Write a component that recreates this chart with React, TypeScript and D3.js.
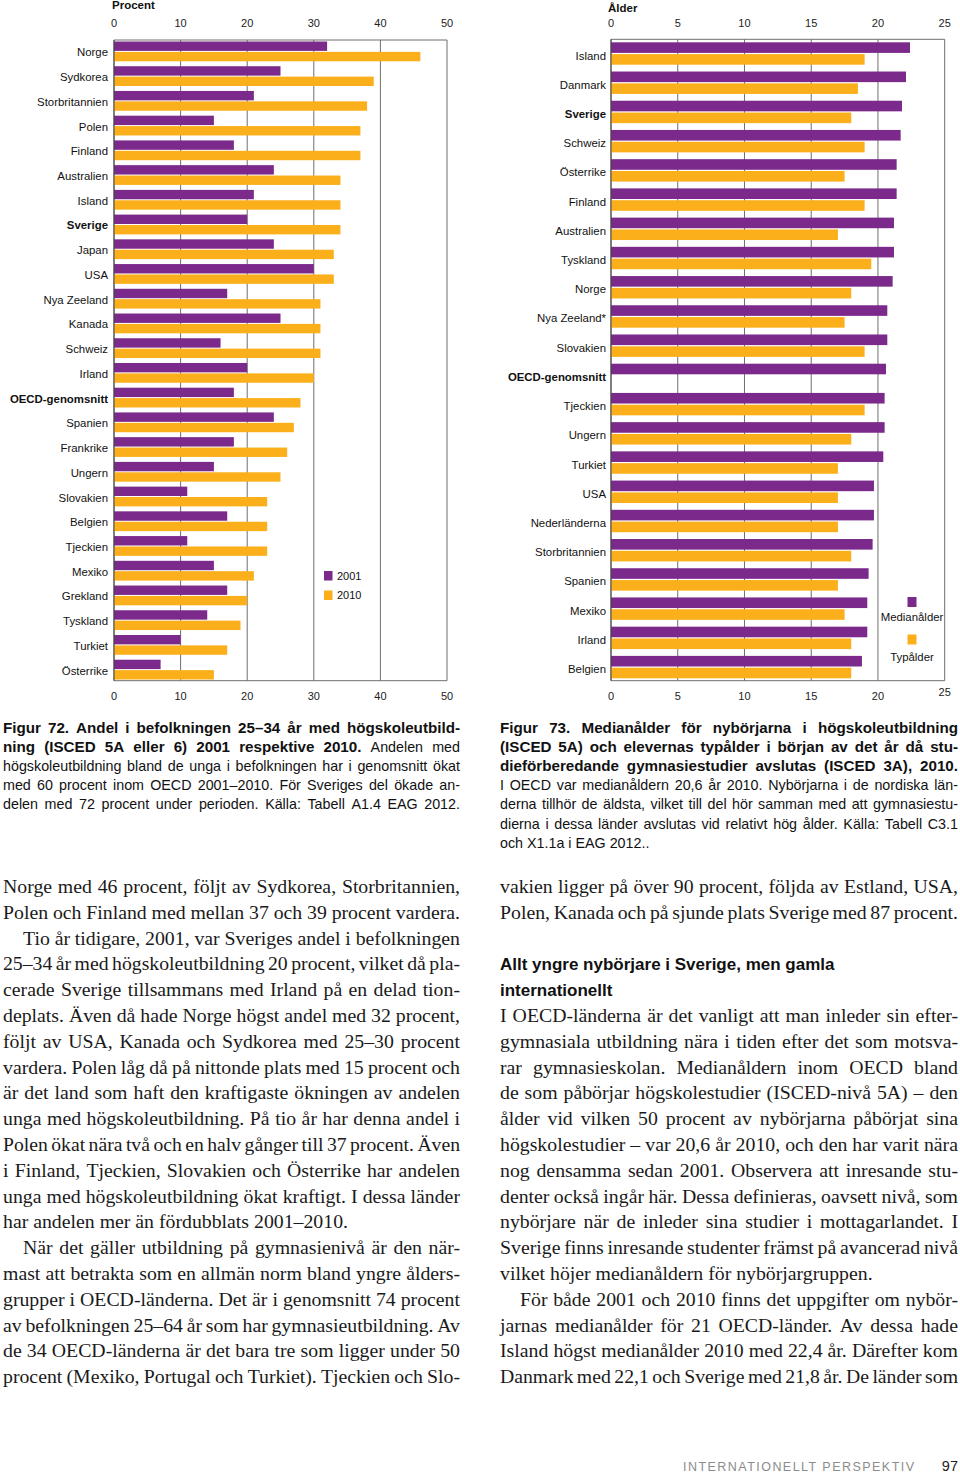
import React from 'react';
import * as d3 from 'd3';

// ---------- DATA ----------
const leftCountries = ['Norge','Sydkorea','Storbritannien','Polen','Finland','Australien','Island','Sverige','Japan','USA','Nya Zeeland','Kanada','Schweiz','Irland','OECD-genomsnitt','Spanien','Frankrike','Ungern','Slovakien','Belgien','Tjeckien','Mexiko','Grekland','Tyskland','Turkiet','Österrike'];
const left2001 = [32,25,21,15,18,24,21,20,24,30,17,25,16,20,18,24,18,15,11,17,11,15,17,14,10,7];
const left2010 = [46,39,38,37,37,34,34,34,33,33,31,31,31,30,28,27,26,25,23,23,23,21,20,19,17,15];
const leftTicks = [0,10,20,30,40,50];
const leftSeries = ['2001','2010'];

const rightCountries = ['Island','Danmark','Sverige','Schweiz','Österrike','Finland','Australien','Tyskland','Norge','Nya Zeeland*','Slovakien','OECD-genomsnitt','Tjeckien','Ungern','Turkiet','USA','Nederländerna','Storbritannien','Spanien','Mexiko','Irland','Belgien'];
const medianAge = [22.4,22.1,21.8,21.7,21.4,21.4,21.2,21.2,21.1,20.7,20.7,20.6,20.5,20.5,20.4,19.7,19.7,19.6,19.3,19.2,19.2,18.8];
const typAge: (number|null)[] = [19,18.5,18,19,17.5,19,17,19.5,18,17.5,19,null,19,18,17,17,17,18,17,17.5,18,18];
const rightTicks = [0,5,10,15,20,25];
const rightSeries = ['Medianålder','Typålder'];

const boldLabels = ['Sverige','OECD-genomsnitt'];

const PURPLE = '#7b2a8b';
const ORANGE = '#fbb01b';
const GRID = '#6e6e6e';

// ---------- TEXT ----------
type Seg = [string, boolean?];
type Line = { segs: Seg[]; justify: boolean; indent?: number };

const cap72: Line[] = [
  { segs: [['Figur 72. Andel i befolkningen 25–34 år med högskoleutbild-', true]], justify: true },
  { segs: [['ning (ISCED 5A eller 6) 2001 respektive 2010.', true], [' Andelen med']], justify: true },
  { segs: [['högskoleutbildning bland de unga i befolkningen har i genomsnitt ökat']], justify: true },
  { segs: [['med 60 procent inom OECD 2001–2010. För Sveriges del ökade an-']], justify: true },
  { segs: [['delen med 72 procent under perioden. Källa: Tabell A1.4 EAG 2012.']], justify: true },
];
const cap73: Line[] = [
  { segs: [['Figur 73. Medianålder för nybörjarna i högskoleutbildning', true]], justify: true },
  { segs: [['(ISCED 5A) och elevernas typålder i början av det år då stu-', true]], justify: true },
  { segs: [['dieförberedande gymnasiestudier avslutas (ISCED 3A), 2010.', true]], justify: true },
  { segs: [['I OECD var medianåldern 20,6 år 2010. Nybörjarna i de nordiska län-']], justify: true },
  { segs: [['derna tillhör de äldsta, vilket till del hör samman med att gymnasiestu-']], justify: true },
  { segs: [['dierna i dessa länder avslutas vid relativt hög ålder. Källa: Tabell C3.1']], justify: true },
  { segs: [['och X1.1a i EAG 2012..']], justify: false },
];

const bodyLeft: Line[] = [
  { segs: [['Norge med 46 procent, följt av Sydkorea, Storbritannien,']], justify: true },
  { segs: [['Polen och Finland med mellan 37 och 39 procent vardera.']], justify: true },
  { segs: [['Tio år tidigare, 2001, var Sveriges andel i befolkningen']], justify: true, indent: 20 },
  { segs: [['25–34 år med högskoleutbildning 20 procent, vilket då pla-']], justify: true },
  { segs: [['cerade Sverige tillsammans med Irland på en delad tion-']], justify: true },
  { segs: [['deplats. Även då hade Norge högst andel med 32 procent,']], justify: true },
  { segs: [['följt av USA, Kanada och Sydkorea med 25–30 procent']], justify: true },
  { segs: [['vardera. Polen låg då på nittonde plats med 15 procent och']], justify: true },
  { segs: [['är det land som haft den kraftigaste ökningen av andelen']], justify: true },
  { segs: [['unga med högskoleutbildning. På tio år har denna andel i']], justify: true },
  { segs: [['Polen ökat nära två och en halv gånger till 37 procent. Även']], justify: true },
  { segs: [['i Finland, Tjeckien, Slovakien och Österrike har andelen']], justify: true },
  { segs: [['unga med högskoleutbildning ökat kraftigt. I dessa länder']], justify: true },
  { segs: [['har andelen mer än fördubblats 2001–2010.']], justify: false },
  { segs: [['När det gäller utbildning på gymnasienivå är den när-']], justify: true, indent: 20 },
  { segs: [['mast att betrakta som en allmän norm bland yngre ålders-']], justify: true },
  { segs: [['grupper i OECD-länderna. Det är i genomsnitt 74 procent']], justify: true },
  { segs: [['av befolkningen 25–64 år som har gymnasieutbildning. Av']], justify: true },
  { segs: [['de 34 OECD-länderna är det bara tre som ligger under 50']], justify: true },
  { segs: [['procent (Mexiko, Portugal och Turkiet). Tjeckien och Slo-']], justify: true },
];
const bodyRightTop: Line[] = [
  { segs: [['vakien ligger på över 90 procent, följda av Estland, USA,']], justify: true },
  { segs: [['Polen, Kanada och på sjunde plats Sverige med 87 procent.']], justify: true },
];
const headingRight = ['Allt yngre nybörjare i Sverige, men gamla', 'internationellt'];
const bodyRight: Line[] = [
  { segs: [['I OECD-länderna är det vanligt att man inleder sin efter-']], justify: true },
  { segs: [['gymnasiala utbildning nära i tiden efter det som motsva-']], justify: true },
  { segs: [['rar gymnasieskolan. Medianåldern inom OECD bland']], justify: true },
  { segs: [['de som påbörjar högskolestudier (ISCED-nivå 5A) – den']], justify: true },
  { segs: [['ålder vid vilken 50 procent av nybörjarna påbörjat sina']], justify: true },
  { segs: [['högskolestudier – var 20,6 år 2010, och den har varit nära']], justify: true },
  { segs: [['nog densamma sedan 2001. Observera att inresande stu-']], justify: true },
  { segs: [['denter också ingår här. Dessa definieras, oavsett nivå, som']], justify: true },
  { segs: [['nybörjare när de inleder sina studier i mottagarlandet. I']], justify: true },
  { segs: [['Sverige finns inresande studenter främst på avancerad nivå']], justify: true },
  { segs: [['vilket höjer medianåldern för nybörjargruppen.']], justify: false },
  { segs: [['För både 2001 och 2010 finns det uppgifter om nybör-']], justify: true, indent: 20 },
  { segs: [['jarnas medianålder för 21 OECD-länder. Av dessa hade']], justify: true },
  { segs: [['Island högst medianålder 2010 med 22,4 år. Därefter kom']], justify: true },
  { segs: [['Danmark med 22,1 och Sverige med 21,8 år. De länder som']], justify: true },
];

// ---------- helpers ----------
let _ctx: CanvasRenderingContext2D | null = null;
function measure(text: string, font: string): number {
  if (!_ctx) _ctx = document.createElement('canvas').getContext('2d');
  _ctx!.font = font;
  return _ctx!.measureText(text).width;
}

function Para({ lines, x, width, y0, lh, size, boldSize, family, fill }: { lines: Line[]; x: number; width: number; y0: number; lh: number; size: number; boldSize?: number; family: string; fill: string }) {
  const out: React.ReactNode[] = [];
  const bs = boldSize || size;
  lines.forEach((ln, li) => {
    const words: { t: string; b: boolean }[] = [];
    ln.segs.forEach(([t, b]) => t.split(' ').filter(w => w.length).forEach(w => words.push({ t: w, b: !!b })));
    const font = (b: boolean) => `${b ? 'bold ' : ''}${b ? bs : size}px "${family}"`;
    const ws = words.map(w => measure(w.t, font(w.b)));
    const sum = d3.sum(ws);
    const indent = ln.indent || 0;
    const avail = width - indent;
    const space = measure(' ', font(false));
    const n = words.length;
    let gap = space;
    let scale = 1;
    if (ln.justify && n > 1) {
      gap = (avail - sum) / (n - 1);
      if (gap < space * 0.7) {
        gap = space * 0.7;
        scale = (avail - gap * (n - 1)) / sum;
      }
    } else if (sum + space * (n - 1) > avail) {
      scale = (avail - space * (n - 1)) / sum;
    }
    let cx = x + indent;
    const y = y0 + li * lh;
    words.forEach((w, wi) => {
      const ww = ws[wi] * scale;
      out.push(
        <text key={`${li}-${wi}`} x={cx} y={y} fontFamily={family} fontSize={w.b ? bs : size} fontWeight={w.b ? 'bold' : 'normal'} fill={fill}
          {...(scale < 1 ? { textLength: ww, lengthAdjust: 'spacingAndGlyphs' } : {})}>{w.t}</text>
      );
      cx += ww + gap;
    });
  });
  return <g>{out}</g>;
}

const SANS = 'Liberation Sans';
const SERIF = 'Liberation Serif';
const LABEL_SIZE = 11.4;

function LeftChart() {
  const x = d3.scaleLinear().domain([0, 50]).range([114, 447]);
  const y = d3.scaleBand().domain(leftCountries).range([41.5, 679.5]).paddingInner(0.2).paddingOuter(0);
  const bw = y.bandwidth();
  const bh = bw / 2 - 0.5;
  const top = 40, bottom = 680.7;
  return (
    <g>
      <text x={112} y={9} fontFamily={SANS} fontSize={11.5} fontWeight="bold" fill="#111">Procent</text>
      {leftTicks.map(t => (
        <g key={t}>
          <line x1={x(t)} x2={x(t)} y1={top} y2={bottom} stroke={GRID} strokeWidth={1} />
          <text x={x(t)} y={27} textAnchor="middle" fontFamily={SANS} fontSize={11} fill="#222">{t}</text>
          <text x={x(t)} y={700} textAnchor="middle" fontFamily={SANS} fontSize={11} fill="#222">{t}</text>
        </g>
      ))}
      <line x1={x(0)} x2={x(50)} y1={top} y2={top} stroke={GRID} />
      <line x1={x(0)} x2={x(50)} y1={bottom} y2={bottom} stroke={GRID} />
      {leftCountries.map((c, i) => (
        <g key={c}>
          <rect x={x(0)} y={y(c)!} width={x(left2001[i]) - x(0)} height={bh} fill={PURPLE} />
          <rect x={x(0)} y={y(c)! + bh + 1} width={x(left2010[i]) - x(0)} height={bh} fill={ORANGE} />
          <text x={108} y={y(c)! + bw / 2 + 5} textAnchor="end" fontFamily={SANS} fontSize={LABEL_SIZE}
            fontWeight={boldLabels.includes(c) ? 'bold' : 'normal'} fill="#111">{c}</text>
        </g>
      ))}
      <line x1={x(0)} x2={x(0)} y1={top} y2={bottom} stroke="#444" />
      {leftSeries.map((s, i) => (
        <g key={s}>
          <rect x={324} y={571 + i * 19.5} width={8.5} height={9.5} fill={i === 0 ? PURPLE : ORANGE} />
          <text x={337} y={579.5 + i * 19.5} fontFamily={SANS} fontSize={11} fill="#111">{s}</text>
        </g>
      ))}
    </g>
  );
}

function RightChart() {
  const x = d3.scaleLinear().domain([0, 25]).range([611, 944.7]);
  const y = d3.scaleBand().domain(rightCountries).range([42.3, 678.3]).paddingInner(0.233).paddingOuter(0);
  const bw = y.bandwidth();
  const bh = bw / 2 - 0.6;
  const top = 39.3, bottom = 680.7;
  return (
    <g>
      <text x={608} y={12} fontFamily={SANS} fontSize={11.5} fontWeight="bold" fill="#111">Ålder</text>
      {rightTicks.map(t => (
        <g key={t}>
          <line x1={x(t)} x2={x(t)} y1={top} y2={bottom} stroke={GRID} strokeWidth={1} />
          <text x={x(t)} y={27} textAnchor="middle" fontFamily={SANS} fontSize={11} fill="#222">{t}</text>
          <text x={x(t)} y={t === 25 ? 696 : 700} textAnchor="middle" fontFamily={SANS} fontSize={11} fill="#222">{t}</text>
        </g>
      ))}
      <line x1={x(0)} x2={x(25)} y1={top} y2={top} stroke={GRID} />
      <line x1={x(0)} x2={x(25)} y1={bottom} y2={bottom} stroke={GRID} />
      {rightCountries.map((c, i) => (
        <g key={c}>
          <rect x={x(0)} y={y(c)!} width={x(medianAge[i]) - x(0)} height={bh} fill={PURPLE} />
          {typAge[i] != null && (
            <rect x={x(0)} y={y(c)! + bh + 1.2} width={x(typAge[i] as number) - x(0)} height={bh} fill={ORANGE} />
          )}
          <text x={606} y={y(c)! + bw / 2 + 6} textAnchor="end" fontFamily={SANS} fontSize={LABEL_SIZE}
            fontWeight={boldLabels.includes(c) ? 'bold' : 'normal'} fill="#111">{c}</text>
        </g>
      ))}
      <line x1={x(0)} x2={x(0)} y1={top} y2={bottom} stroke="#444" />
      {rightSeries.map((s, i) => (
        <g key={s}>
          <rect x={907.5} y={597 + i * 37.5} width={9} height={10} fill={i === 0 ? PURPLE : ORANGE} />
          <text x={912} y={620.5 + i * 40} textAnchor="middle" fontFamily={SANS} fontSize={11.4} fill="#111">{s}</text>
        </g>
      ))}
    </g>
  );
}

export default function App() {
  return (
    <svg width={960} height={1474} viewBox="0 0 960 1474" style={{ position: 'absolute', left: 0, top: 0, background: '#fff' }}>
      <rect x={0} y={0} width={960} height={1474} fill="#fff" />
      <LeftChart />
      <RightChart />
      <Para lines={cap72} x={3} width={457} y0={733} lh={19.1} size={14.3} boldSize={15.2} family={SANS} fill="#111" />
      <Para lines={cap73} x={500} width={458} y0={733} lh={19.1} size={14.3} boldSize={15.2} family={SANS} fill="#111" />
      <Para lines={bodyLeft} x={3} width={457} y0={893} lh={25.8} size={19.8} family={SERIF} fill="#1a1a1a" />
      <Para lines={bodyRightTop} x={500} width={458} y0={893} lh={25.8} size={19.8} family={SERIF} fill="#1a1a1a" />
      {headingRight.map((h, i) => (
        <text key={h} x={500} y={970 + i * 25.8} fontFamily={SANS} fontSize={17} fontWeight="bold" fill="#111">{h}</text>
      ))}
      <Para lines={bodyRight} x={500} width={458} y0={1022} lh={25.8} size={19.8} family={SERIF} fill="#1a1a1a" />
      <text x={683} y={1471} fontFamily={SANS} fontSize={12.5} fill="#8c8c8c" letterSpacing={1} textLength={232} lengthAdjust="spacing">INTERNATIONELLT PERSPEKTIV</text>
      <text x={958} y={1471} textAnchor="end" fontFamily={SANS} fontSize={14.5} fill="#222">97</text>
    </svg>
  );
}
